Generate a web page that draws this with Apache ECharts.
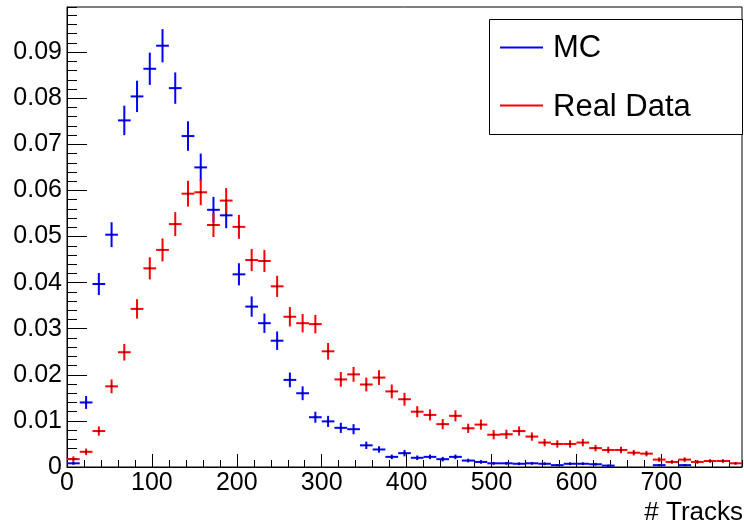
<!DOCTYPE html>
<html><head><meta charset="utf-8">
<script src="https://cdn.jsdelivr.net/npm/echarts@6/dist/echarts.min.js"></script>
<style>html,body{margin:0;padding:0;background:#fff}#c{width:744px;height:527px}</style>
</head><body><div id="c"></div>
<script>
// Histogram binning (# Tracks)
const binStart = 0;
const binWidth = 15;
const nBins = 53;
const xMax = 795;
const yMax = 0.0998;

const seriesNames = ['MC', 'Real Data'];
const seriesColors = ['#0000ff', '#ff0000'];
const xTitle = '# Tracks';

// MC (normalized) bin contents, null = empty bin
const mcValues = [
  0.0008, 0.0140, 0.0397, 0.0504, 0.0752, 0.0804, 0.0864, 0.0914, 0.0822, 0.0718,
  0.0650, 0.0558, 0.0546, 0.0418, 0.0348, 0.0312, 0.0274, 0.0189, 0.0160, 0.0108,
  0.0099, 0.0085, 0.0082, 0.0047, 0.0038, 0.0022, 0.0030, 0.0020, 0.0022, 0.0017,
  0.0022, 0.0014, 0.0011, 0.0008, 0.0008, 0.0007, 0.0008, 0.0007, 0.0004, 0.0007,
  0.0007, 0.0006, 0.0003, null, null, null, 0.0004, null, 0.0004, null,
  null, null, null
];
const mcErrors = [
  0.0003, 0.0014, 0.0024, 0.0027, 0.0032, 0.0034, 0.0035, 0.0036, 0.0034, 0.0032,
  0.0030, 0.0028, 0.0028, 0.0024, 0.0022, 0.0021, 0.0020, 0.0016, 0.0015, 0.0012,
  0.0012, 0.0011, 0.0011, 0.0008, 0.0007, 0.0005, 0.0007, 0.0005, 0.0005, 0.0005,
  0.0005, 0.0004, 0.0004, 0.0003, 0.0003, 0.0003, 0.0003, 0.0003, 0.0002, 0.0003,
  0.0003, 0.0003, 0.0002, null, null, null, 0.0002, null, 0.0002, null,
  null, null, null
];
// Real data (normalized) bin contents
const dataValues = [
  0.0017, 0.0033, 0.0078, 0.0175, 0.0249, 0.0343, 0.0431, 0.0471, 0.0527, 0.0593,
  0.0596, 0.0525, 0.0578, 0.0521, 0.0449, 0.0447, 0.0392, 0.0326, 0.0312, 0.0310,
  0.0251, 0.0190, 0.0201, 0.0179, 0.0194, 0.0164, 0.0147, 0.0120, 0.0113, 0.0093,
  0.0111, 0.0084, 0.0092, 0.0070, 0.0071, 0.0078, 0.0066, 0.0053, 0.0050, 0.0050,
  0.0053, 0.0041, 0.0037, 0.0037, 0.0031, 0.0029, 0.0016, 0.0011, 0.0016, 0.0011,
  0.0013, 0.0013, 0.0008
];
const dataErrors = [
  0.0006, 0.0007, 0.0010, 0.0015, 0.0018, 0.0021, 0.0024, 0.0025, 0.0026, 0.0028,
  0.0028, 0.0026, 0.0027, 0.0026, 0.0024, 0.0024, 0.0023, 0.0021, 0.0020, 0.0020,
  0.0018, 0.0016, 0.0016, 0.0015, 0.0016, 0.0015, 0.0014, 0.0012, 0.0012, 0.0011,
  0.0012, 0.0010, 0.0011, 0.0010, 0.0010, 0.0010, 0.0009, 0.0008, 0.0008, 0.0008,
  0.0008, 0.0007, 0.0007, 0.0007, 0.0006, 0.0006, 0.0005, 0.0004, 0.0005, 0.0004,
  0.0004, 0.0004, 0.0003
];

function buildPoints(vals, errs) {
  const out = [];
  for (let i = 0; i < nBins; i++) {
    if (vals[i] == null) continue;
    out.push([binStart + binWidth * (i + 0.5), vals[i], errs[i] || 0]);
  }
  return out;
}

function crossRenderer(color) {
  return function (params, api) {
    const x = api.value(0), y = api.value(1), e = api.value(2);
    const c = api.coord([x, y]);
    const l = api.coord([x - binWidth / 2, y])[0];
    const r = api.coord([x + binWidth / 2, y])[0];
    const t = api.coord([x, y + e])[1];
    const b = api.coord([x, y - e])[1];
    return {
      type: 'group',
      children: [
        { type: 'line', shape: { x1: l, y1: c[1], x2: r, y2: c[1] }, style: { stroke: color, lineWidth: 2 } },
        { type: 'line', shape: { x1: c[0], y1: t, x2: c[0], y2: b }, style: { stroke: color, lineWidth: 2 } },
        { type: 'rect', shape: { x: c[0] - 1, y: c[1] - 1, width: 2, height: 2 }, style: { fill: '#000', opacity: 0.55 } }
      ]
    };
  };
}

const FONT = 'Liberation Sans, Arial, Helvetica, sans-serif';
const chart = echarts.init(document.getElementById('c'), null, { renderer: 'canvas' });

const yLabel = v => {
  const k = v * 100;
  if (Math.abs(k - Math.round(k)) > 1e-6) return '';
  return v === 0 ? '0' : v.toFixed(2);
};
const xLabel = v => (v % 100 === 0 ? String(v) : '');

chart.setOption({
  animation: false,
  backgroundColor: '#fff',
  textStyle: { fontFamily: FONT },
  grid: { left: 67, top: 7, right: 2, bottom: 60, show: true, borderColor: '#000', borderWidth: 1, backgroundColor: 'transparent' },
  xAxis: [
    {
      type: 'value', min: 0, max: xMax, interval: 100, position: 'bottom',
      axisLine: { lineStyle: { color: '#000', width: 1 } },
      axisTick: { inside: true, length: 13, lineStyle: { color: '#000', width: 1 } },
      axisLabel: { formatter: xLabel, fontSize: 25, color: '#000', margin: 4, fontFamily: FONT, showMaxLabel: false },
      splitLine: { show: false }
    },
    {
      type: 'value', min: 0, max: xMax, interval: 20, position: 'bottom',
      axisLine: { show: false },
      axisTick: { inside: true, length: 7, lineStyle: { color: '#000', width: 1 } },
      axisLabel: { show: false },
      splitLine: { show: false }
    }
  ],
  yAxis: [
    {
      type: 'value', min: 0, max: yMax, interval: 0.01, position: 'left',
      axisLine: { show: true, lineStyle: { color: '#000', width: 1 } },
      axisTick: { show: true, inside: true, length: 20, lineStyle: { color: '#000', width: 1 } },
      axisLabel: { formatter: yLabel, fontSize: 25, color: '#000', margin: 5, fontFamily: FONT, showMaxLabel: false },
      splitLine: { show: false }
    },
    {
      type: 'value', min: 0, max: yMax, interval: 0.002, position: 'left',
      axisLine: { show: false },
      axisTick: { show: true, inside: true, length: 10, lineStyle: { color: '#000', width: 1 } },
      axisLabel: { show: false },
      splitLine: { show: false }
    }
  ],
  series: [
    {
      name: seriesNames[0], type: 'custom', xAxisIndex: 0, yAxisIndex: 0, clip: true,
      renderItem: crossRenderer(seriesColors[0]),
      encode: { x: 0, y: 1 },
      data: buildPoints(mcValues, mcErrors)
    },
    {
      name: seriesNames[1], type: 'custom', xAxisIndex: 0, yAxisIndex: 0, clip: true,
      renderItem: crossRenderer(seriesColors[1]),
      encode: { x: 0, y: 1 },
      data: buildPoints(dataValues, dataErrors)
    }
  ],
  graphic: [
    { type: 'rect', shape: { x: 489.5, y: 19.5, width: 253, height: 115 }, style: { fill: '#fff', stroke: '#000', lineWidth: 1 }, z: 100 },
    { type: 'line', shape: { x1: 500, y1: 47.5, x2: 543, y2: 47.5 }, style: { stroke: seriesColors[0], lineWidth: 2 }, z: 101 },
    { type: 'line', shape: { x1: 500, y1: 105.5, x2: 543, y2: 105.5 }, style: { stroke: seriesColors[1], lineWidth: 2 }, z: 101 },
    { type: 'text', x: 553, y: 48.5, style: { text: seriesNames[0], font: '31px ' + FONT, fill: '#000', textVerticalAlign: 'middle', textAlign: 'left' }, z: 101 },
    { type: 'text', x: 553, y: 107.5, style: { text: seriesNames[1], font: '31px ' + FONT, fill: '#000', textVerticalAlign: 'middle', textAlign: 'left' }, z: 101 },
    { type: 'text', x: 743, y: 513, style: { text: xTitle, font: '26px ' + FONT, fill: '#000', textVerticalAlign: 'middle', textAlign: 'right' }, z: 101 }
  ]
});
</script>
</body></html>
